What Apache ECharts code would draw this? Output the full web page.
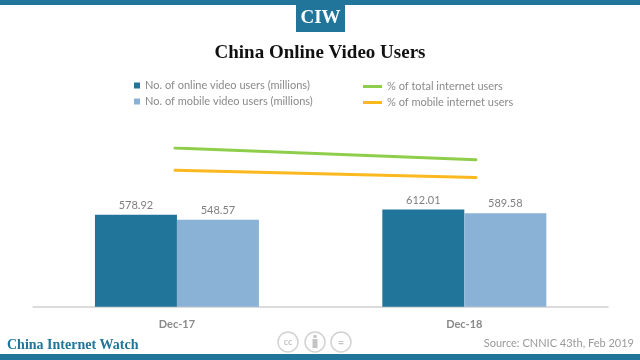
<!DOCTYPE html>
<html><head><meta charset="utf-8">
<style>html,body{margin:0;padding:0;background:#fff}#c{width:640px;height:360px}</style>
<script src="https://cdn.jsdelivr.net/npm/echarts@6/dist/echarts.min.js"></script>
</head><body><div id="c"></div>
<script>
const categories = ['Dec-17', 'Dec-18'];
const onlineVideoUsers = [578.92, 612.01];
const mobileVideoUsers = [548.57, 589.58];
const pctTotalInternet = [75.0, 73.9];
const pctMobileInternet = [72.9, 72.2];
const names = ['No. of online video users (millions)','No. of mobile video users (millions)','% of total internet users','% of mobile internet users'];
const TEAL='#21759b', LIGHT='#8ab2d6', GREEN='#8fce4a', YELLOW='#fbb91f', GREY='#7f7f7f', SERIF='"Liberation Serif", serif';
const chart = echarts.init(document.getElementById('c'), null, {renderer:'canvas'});
const legendText = {color:'#8a8a8a', fontFamily:'Lato', fontSize:11};
const pctLabel = (color, pos, off) => ({show:true, position:pos, offset:off, color, fontFamily:'Lato', fontSize:11,
  formatter:p=>p.value.toFixed(1)+'%'});
chart.setOption({
  animation:false,
  backgroundColor:'#fff',
  title:{text:'China Online Video Users', left:'center', top:39, itemGap:0,
    textStyle:{fontFamily:SERIF, fontWeight:'bold', fontSize:19, color:'#111'}},
  legend:[
    {left:129,top:75,data:[names[0]],icon:'rect',itemWidth:6,itemHeight:6,textStyle:legendText,selectedMode:false},
    {left:129,top:91,data:[names[1]],icon:'rect',itemWidth:6,itemHeight:6,textStyle:legendText,selectedMode:false},
    {left:358,top:76,data:[names[2]],icon:'rect',itemWidth:19,itemHeight:3,textStyle:legendText,selectedMode:false},
    {left:358,top:92,data:[names[3]],icon:'rect',itemWidth:19,itemHeight:3,textStyle:legendText,selectedMode:false}
  ],
  grid:[
    {left:33.25,top:148,width:574.75,height:158.7},
    {left:24.5,top:148,width:602,height:158.7}
  ],
  xAxis:[
    {type:'category',gridIndex:0,data:categories,axisTick:{show:false},
      axisLine:{lineStyle:{color:'#cfcfcf',width:1.5}},
      axisLabel:{color:'#8a8a8a',fontFamily:'Lato',fontSize:11,fontWeight:'bold',margin:12}},
    {type:'category',gridIndex:1,data:categories,show:false}
  ],
  yAxis:[
    {type:'value',gridIndex:0,min:0,max:1000,show:false,splitLine:{show:false}},
    {type:'value',gridIndex:1,min:60,max:75,show:false,splitLine:{show:false}}
  ],
  series:[
    {name:names[0],type:'bar',data:onlineVideoUsers,barWidth:82,barGap:0,itemStyle:{color:TEAL},
      label:{show:true,position:'top',distance:4,color:GREY,fontFamily:'Lato',fontSize:11,formatter:p=>p.value.toFixed(2)}},
    {name:names[1],type:'bar',data:mobileVideoUsers,barWidth:82,barGap:0,itemStyle:{color:LIGHT},
      label:{show:true,position:'top',distance:4,color:GREY,fontFamily:'Lato',fontSize:11,formatter:p=>p.value.toFixed(2)}},
    {name:names[2],type:'line',xAxisIndex:1,yAxisIndex:1,data:pctTotalInternet,symbol:'none',
      lineStyle:{color:GREEN,width:3,cap:'round'},itemStyle:{color:GREEN},
      label:pctLabel(GREY,'top',[0,-1]),showSymbol:true,symbolSize:1},
    {name:names[3],type:'line',xAxisIndex:1,yAxisIndex:1,data:pctMobileInternet,symbol:'none',
      lineStyle:{color:YELLOW,width:3,cap:'round'},itemStyle:{color:YELLOW},
      label:{show:true,color:YELLOW,fontFamily:'Lato',fontSize:11,formatter:p=>p.value.toFixed(1)+'%',position:'top'}}
  ],
  graphic:[
    {type:'rect',shape:{x:0,y:0,width:640,height:5},style:{fill:TEAL}},
    {type:'rect',shape:{x:296,y:0,width:49,height:32},style:{fill:TEAL}},
    {type:'text',x:320.5,y:18,style:{text:'CIW',fill:'#fff',font:'bold 19px '+SERIF,textAlign:'center',textVerticalAlign:'middle'}},
    {type:'rect',shape:{x:0,y:354,width:640,height:6},style:{fill:TEAL}},
    {type:'text',x:7,y:345,style:{text:'China Internet Watch',fill:TEAL,font:'bold 14px '+SERIF,textAlign:'left',textVerticalAlign:'middle'}},
    {type:'text',x:634,y:343,style:{text:'Source: CNNIC 43th, Feb 2019',fill:'#9a9a9a',font:'11px Lato',textAlign:'right',textVerticalAlign:'middle'}},
    {type:'circle',shape:{cx:288,cy:342,r:10},style:{fill:'#fff',stroke:'#d2d2d2',lineWidth:1.5}},
    {type:'text',x:288,y:342,style:{text:'cc',fill:'#c4c4c4',font:'bold 9px Lato',textAlign:'center',textVerticalAlign:'middle'}},
    {type:'circle',shape:{cx:315,cy:342,r:10},style:{fill:'#fff',stroke:'#d2d2d2',lineWidth:1.5}},
    {type:'circle',shape:{cx:315,cy:336.5,r:1.8},style:{fill:'#c4c4c4'}},
    {type:'rect',shape:{x:312.5,y:339,width:5,height:9},style:{fill:'#c4c4c4'}},
    {type:'circle',shape:{cx:341,cy:342,r:10},style:{fill:'#fff',stroke:'#d2d2d2',lineWidth:1.5}},
    {type:'text',x:341,y:342,style:{text:'=',fill:'#c4c4c4',font:'bold 11px Lato',textAlign:'center',textVerticalAlign:'middle'}}
  ]
});
</script></body></html>
